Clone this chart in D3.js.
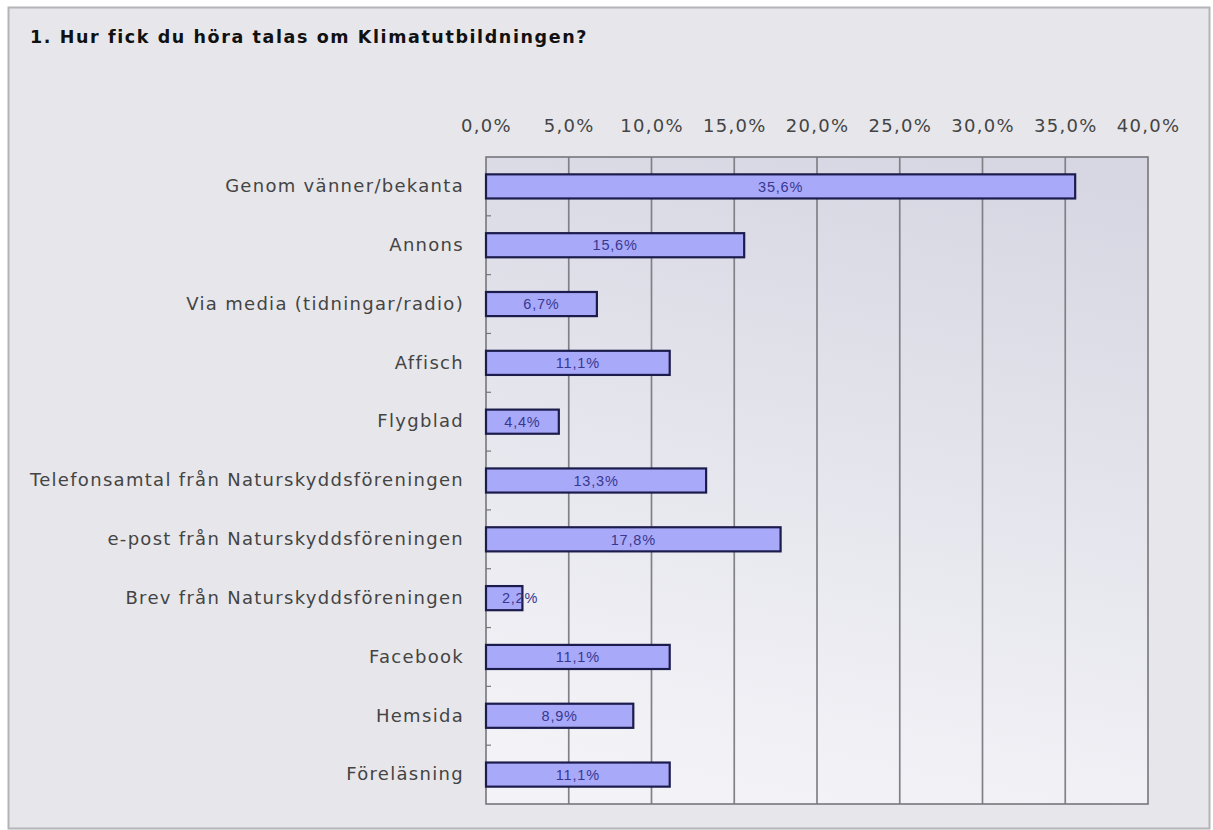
<!DOCTYPE html>
<html>
<head>
<meta charset="utf-8">
<script src="https://cdn.jsdelivr.net/npm/d3@7"></script>
<style>
  body { margin: 0; background: #fff; }
  svg { display: block; font-family: "DejaVu Sans", Verdana, sans-serif; }
</style>
</head>
<body>
<svg id="chart" width="1213" height="830"></svg>
<script>
const title = "1. Hur fick du höra talas om Klimatutbildningen?";
const categories = [
  "Genom vänner/bekanta",
  "Annons",
  "Via media (tidningar/radio)",
  "Affisch",
  "Flygblad",
  "Telefonsamtal från Naturskyddsföreningen",
  "e-post från Naturskyddsföreningen",
  "Brev från Naturskyddsföreningen",
  "Facebook",
  "Hemsida",
  "Föreläsning"
];
const values = [35.6, 15.6, 6.7, 11.1, 4.4, 13.3, 17.8, 2.2, 11.1, 8.9, 11.1];
const tickValues = [0, 5, 10, 15, 20, 25, 30, 35, 40];

const fmt = v => d3.format(".1f")(v).replace(".", ",") + "%";

const svg = d3.select("#chart");
const margin = { top: 157, right: 65, bottom: 26, left: 486 };
const W = 1213, H = 830;
const width = W - margin.left - margin.right;
const height = H - margin.top - margin.bottom;

// background gradient for the plot area (darker at top)
const defs = svg.append("defs");
const grad = defs.append("linearGradient").attr("id", "plotbg")
  .attr("x1", "70%").attr("y1", "0%").attr("x2", "50%").attr("y2", "100%");
grad.append("stop").attr("offset", "0%").attr("stop-color", "#d7d7e3");
grad.append("stop").attr("offset", "100%").attr("stop-color", "#f3f3f7");

// outer frame
svg.append("rect")
  .attr("x", 8.5).attr("y", 7.5).attr("width", 1201).attr("height", 821)
  .attr("fill", "#e7e7eb").attr("stroke", "#b4b4b8").attr("stroke-width", 2);

svg.append("text")
  .attr("x", 30).attr("y", 43)
  .attr("font-size", 17.5).attr("font-weight", "bold").attr("fill", "#111")
  .attr("letter-spacing", 1.6)
  .text(title);

const x = d3.scaleLinear().domain([0, 40]).range([0, width]);
const y = d3.scaleBand().domain(categories).range([0, height]).paddingInner(0.59).paddingOuter(0.295);
const rows = d3.scaleBand().domain(categories).range([0, height]);

const g = svg.append("g").attr("transform", `translate(${margin.left},${margin.top})`);

g.append("rect").attr("width", width).attr("height", height).attr("fill", "url(#plotbg)");

// gridlines
g.append("g").selectAll("line").data(tickValues.slice(1, -1)).join("line")
  .attr("x1", d => x(d)).attr("x2", d => x(d))
  .attr("y1", 0).attr("y2", height)
  .attr("stroke", "#808086").attr("stroke-width", 1.7);

// top axis labels
const xAxis = g.append("g")
  .call(d3.axisTop(x).tickValues(tickValues).tickFormat(d => fmt(d)).tickSize(0).tickPadding(25));
xAxis.select(".domain").remove();
xAxis.selectAll("text").attr("font-size", 18).attr("fill", "#444")
  .attr("letter-spacing", 1.3).attr("font-family", "DejaVu Sans, Verdana, sans-serif");

// row separator ticks on the left axis
g.append("g").selectAll("line").data(categories.slice(1)).join("line")
  .attr("x1", 0).attr("x2", 5)
  .attr("y1", d => rows(d)).attr("y2", d => rows(d))
  .attr("stroke", "#777").attr("stroke-width", 1.2);

// plot border
g.append("rect").attr("width", width).attr("height", height)
  .attr("fill", "none").attr("stroke", "#76767c").attr("stroke-width", 1.6);

// category labels
const yAxis = g.append("g")
  .call(d3.axisLeft(y).tickSize(0).tickPadding(22));
yAxis.select(".domain").remove();
yAxis.selectAll("text").attr("font-size", 18).attr("fill", "#444")
  .attr("letter-spacing", 1.3).attr("font-family", "DejaVu Sans, Verdana, sans-serif");

// bars
const data = categories.map((c, i) => ({ c, v: values[i] }));
g.append("g").selectAll("rect").data(data).join("rect")
  .attr("x", 0).attr("y", d => y(d.c))
  .attr("width", d => x(d.v)).attr("height", y.bandwidth())
  .attr("fill", "#a9a9f9").attr("stroke", "#1c1c4c").attr("stroke-width", 2.2);

// value labels
g.append("g").selectAll("text").data(data).join("text")
  .attr("x", d => Math.max(x(d.v) / 2, x(0) + 34))
  .attr("y", d => y(d.c) + y.bandwidth() / 2)
  .attr("dy", "0.36em")
  .attr("text-anchor", "middle")
  .attr("font-size", 14.5).attr("fill", "#383890")
  .attr("letter-spacing", 0.8)
  .attr("font-family", "Liberation Sans, Arial, sans-serif")
  .text(d => fmt(d.v));
</script>
</body>
</html>
